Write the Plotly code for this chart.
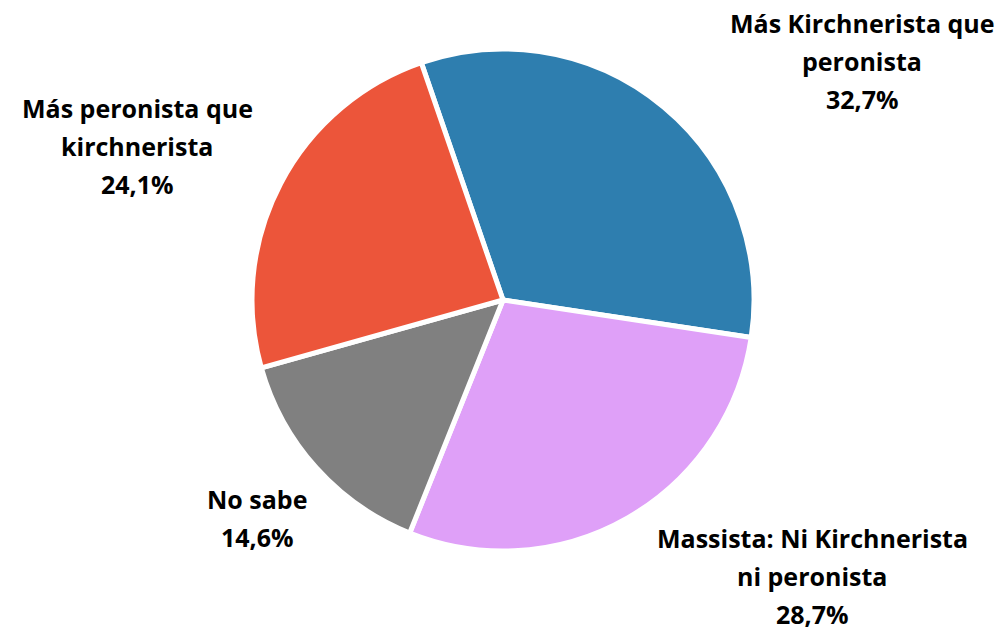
import plotly.graph_objects as go

categories = ["Más Kirchnerista que peronista", "Massista: Ni Kirchnerista ni peronista",
              "No sabe", "Más peronista que kirchnerista"]
values = [32.7, 28.7, 14.6, 24.1]
label_lines = [["Más Kirchnerista que", "peronista"],
               ["Massista: Ni Kirchnerista", "ni peronista"],
               ["No sabe"],
               ["Más peronista que", "kirchnerista"]]
colors = ["#2E7EAF", "#DFA0F8", "#808080", "#EC553A"]

W, H = 1007, 632
OFF = 8  # page body margin offset

# label block placement (pixel centre x, first line centre y) in page pixels
label_pos = [(862, 23), (812, 538), (257, 499), (137, 108)]
line_gap = 38


def px_x(p):
    return (p - OFF) / W


def px_y(p):
    return 1 - (p - OFF) / H


fig = go.Figure(go.Pie(
    labels=categories,
    values=values,
    sort=False,
    direction="clockwise",
    rotation=-19,
    marker=dict(colors=colors, line=dict(color="white", width=5)),
    textinfo="none",
    hoverinfo="label+percent",
    domain=dict(x=[px_x(8), px_x(998)], y=[px_y(551), px_y(49)]),
    showlegend=False,
))

annotations = []
for lines, val, (px, py) in zip(label_lines, values, label_pos):
    all_lines = lines + [f"{val:.1f}".replace(".", ",") + "%"]
    for i, txt in enumerate(all_lines):
        annotations.append(dict(
            x=px_x(px), y=px_y(py + i * line_gap), xref="paper", yref="paper",
            text=f"<b>{txt}</b>", showarrow=False, xanchor="center", yanchor="middle",
            font=dict(family="Open Sans", size=25, color="black"),
        ))

fig.update_layout(
    width=W, height=H,
    margin=dict(l=0, r=0, t=0, b=0),
    paper_bgcolor="white", plot_bgcolor="white",
    annotations=annotations,
)

fig.write_html("out.html")
